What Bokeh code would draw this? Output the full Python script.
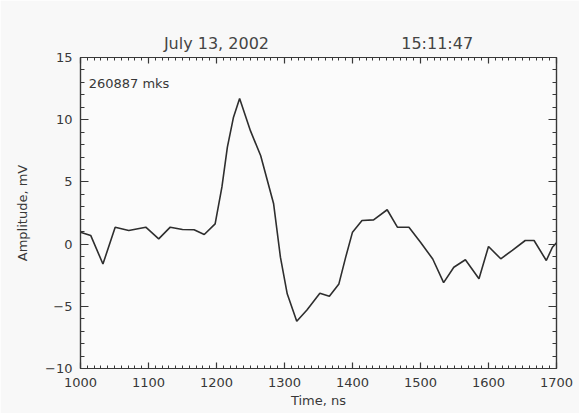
from bokeh.plotting import figure
from bokeh.models import Label, LinearAxis, SingleIntervalTicker, Range1d, Title
from bokeh.embed import file_html
from bokeh.resources import INLINE

# Data
time_ns = [1000, 1015, 1033, 1051, 1071, 1096, 1115, 1132, 1150, 1167, 1182, 1198,
           1208, 1216, 1225, 1234, 1250, 1265, 1284, 1294, 1304, 1318, 1333, 1352,
           1366, 1380, 1390, 1400, 1414, 1431, 1451, 1466, 1483, 1500, 1518, 1534,
           1549, 1566, 1586, 1600, 1618, 1635, 1654, 1667, 1685, 1694, 1700]
amp_mv = [0.96, 0.7, -1.6, 1.36, 1.1, 1.36, 0.42, 1.36, 1.17, 1.15, 0.77, 1.63,
          4.6, 7.8, 10.2, 11.7, 9.1, 7.1, 3.24, -1.05, -4.0, -6.2, -5.3, -3.95,
          -4.2, -3.2, -1.05, 0.96, 1.9, 1.95, 2.76, 1.36, 1.36, 0.15, -1.2, -3.1,
          -1.86, -1.26, -2.79, -0.19, -1.18, -0.51, 0.29, 0.29, -1.32, -0.25, 0.1]

date_text = "July 13, 2002"
time_text = "15:11:47"
stamp_text = "260887 mks"
x_label = "Time, ns"
y_label = "Amplitude, mV"

FONT = "DejaVu Sans"
INK = "#383838"
BG = "#f8f8f8"

p = figure(width=579, height=413, output_backend="svg", toolbar_location=None,
           x_range=Range1d(1000, 1700), y_range=Range1d(-10, 15),
           min_border_left=80, min_border_right=23, min_border_top=57, min_border_bottom=45,
           x_axis_location=None, y_axis_location=None)
p.background_fill_color = "#fbfbfb"
p.border_fill_color = BG
p.outline_line_color = INK
p.outline_line_width = 1.2
p.grid.visible = False

def style_axis(ax, show_labels, major, minor):
    ax.major_tick_in = major
    ax.major_tick_out = 0
    ax.minor_tick_in = minor
    ax.minor_tick_out = 0
    ax.axis_line_color = INK
    ax.axis_line_width = 1.2
    ax.major_tick_line_color = INK
    ax.major_tick_line_width = 1.2
    ax.minor_tick_line_color = INK
    ax.minor_tick_line_width = 1
    ax.major_label_text_font = FONT
    ax.major_label_text_font_size = "13px"
    ax.major_label_text_color = INK if show_labels else None
    ax.axis_label_text_font = FONT
    ax.axis_label_text_font_size = "13px"
    ax.axis_label_text_font_style = "normal"
    ax.axis_label_text_color = INK

xb = LinearAxis(ticker=SingleIntervalTicker(interval=100, num_minor_ticks=10), axis_label=x_label)
style_axis(xb, True, 6, 3)
xb.major_label_standoff = 9
xb.axis_label_standoff = 3
p.add_layout(xb, "below")

xt = LinearAxis(ticker=SingleIntervalTicker(interval=100, num_minor_ticks=10))
style_axis(xt, False, 6, 3)
xt.major_label_text_font_size = "0px"
xt.major_label_standoff = 0
p.add_layout(xt, "above")

yl = LinearAxis(ticker=SingleIntervalTicker(interval=5, num_minor_ticks=5), axis_label=y_label)
style_axis(yl, True, 8, 4)
yl.major_label_standoff = 8
yl.axis_label_standoff = 12
p.add_layout(yl, "left")

yr = LinearAxis(ticker=SingleIntervalTicker(interval=5, num_minor_ticks=5))
style_axis(yr, False, 8, 4)
yr.major_label_text_font_size = "0px"
yr.major_label_standoff = 0
p.add_layout(yr, "right")

p.line(time_ns, amp_mv, line_color="#2e2e2e", line_width=1.6)

NB = "\u00a0"
title = Title(text=date_text + NB * 26 + time_text, align="center",
              text_font=FONT, text_font_size="16px", text_font_style="normal",
              text_color="#444444", standoff=9)
p.add_layout(title, "above")

p.add_layout(Label(x=1012, y=12.9, text=stamp_text, text_align="left", text_baseline="middle",
                   text_font=FONT, text_font_size="13px", text_color=INK))

open("out.html", "w").write(file_html(p, INLINE))
